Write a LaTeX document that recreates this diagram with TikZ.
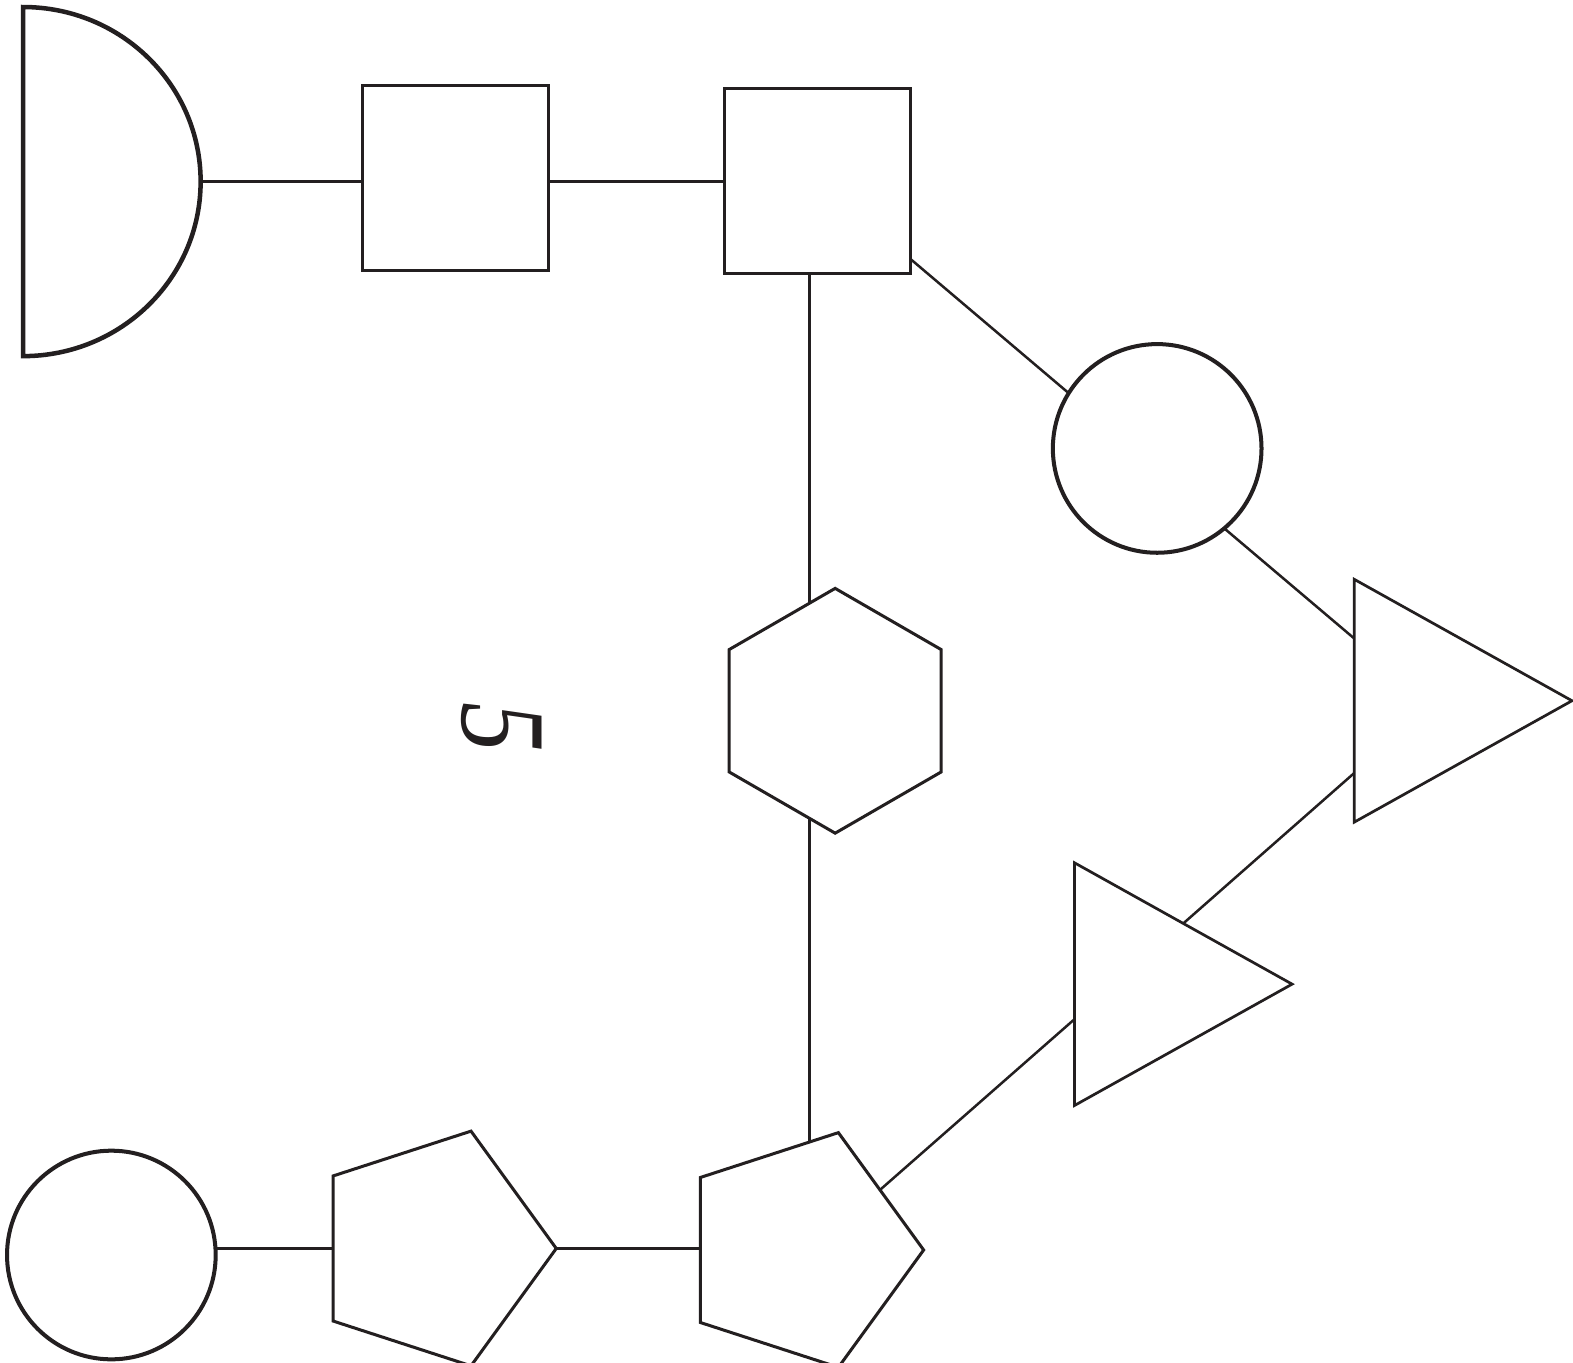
\documentclass[tikz,border=0pt]{standalone}
\usepackage{fontspec}
\usetikzlibrary{shapes.geometric,backgrounds,calc}
\newfontfamily\digitfont{Liberation Serif}
\definecolor{ink}{RGB}{35,31,32}
\begin{document}
\begin{tikzpicture}[x=1pt,y=1pt,
  sqbox/.style={rectangle, draw=ink, line width=3pt, fill=white, inner sep=0pt, outer sep=0pt, minimum width=186pt, minimum height=185pt},
  ring/.style={circle, draw=ink, line width=4pt, fill=white, inner sep=0pt, outer sep=0pt, minimum size=208pt},
  tri/.style={isosceles triangle, isosceles triangle stretches, draw=ink, line width=2.7pt, fill=white, inner sep=0pt, outer sep=0pt, minimum width=242pt, minimum height=217pt},
  pent/.style={regular polygon, regular polygon sides=5, shape border rotate=-90, draw=ink, line width=3pt, fill=white, inner sep=0pt, outer sep=0pt, minimum size=246pt},
  hexa/.style={regular polygon, regular polygon sides=6, shape border rotate=30, draw=ink, line width=3pt, fill=white, inner sep=0pt, outer sep=0pt, minimum size=244pt},
  link/.style={draw=ink, line width=2.5pt}
]
\useasboundingbox (0,0) rectangle (1568,-1358);

% half disc
\draw[draw=ink, line width=4.5pt, fill=white] (23,-355) -- (23,-7)
  arc[start angle=90, end angle=-90, x radius=177, y radius=174] -- cycle;
\coordinate (semitip) at (200,-181);

\node[sqbox] (sq1) at (454,-177.5) {};
\node[sqbox] (sq2) at (815,-180.5) {};
\node[ring] (c1) at (1153.5,-447) {};
\node[tri, anchor=lower side] (tri1) at (1350,-698.5) {};
\node[tri, anchor=lower side] (tri2) at (1071,-981) {};
\node[hexa] (hex) at (832.5,-708.5) {};
\node[pent] (pent1) at (431.5,-1244.5) {};
\node[pent] (pent2) at (797.7,-1246) {};
\node[ring] (c2) at (111,-1251) {};
\coordinate (vx) at (807,0);

\node[rotate=-90, text=ink, inner sep=0pt, font=\digitfont\itshape\fontsize{121pt}{121pt}\selectfont] (five) at (500,-725) {\scalebox{0.82}[1]{5}};

\begin{scope}[on background layer]
\draw[link] (semitip) -- (semitip -| sq1.west);
\draw[link] (semitip -| sq1.east) -- (semitip -| sq2.west);
\draw[link] (vx |- sq2.south) -- (vx |- pent2.center);
\draw[link] (sq2.-40.5) -- (c1.148.6);
\draw[link] (c1.-50) -- ([yshift=62pt]tri1.lower side);
\draw[link] ([yshift=-72pt]tri1.lower side) -- ($(tri2.left corner)!0.5!(tri2.apex)$);
\draw[link] ([yshift=-35pt]tri2.lower side) -- (pent2.37.2);
\draw[link] (pent1.180 -| c2.east) -- (pent1.180);
\draw[link] (pent1.0) -- (pent1.0 -| pent2.180);
\end{scope}
\end{tikzpicture}
\end{document}
